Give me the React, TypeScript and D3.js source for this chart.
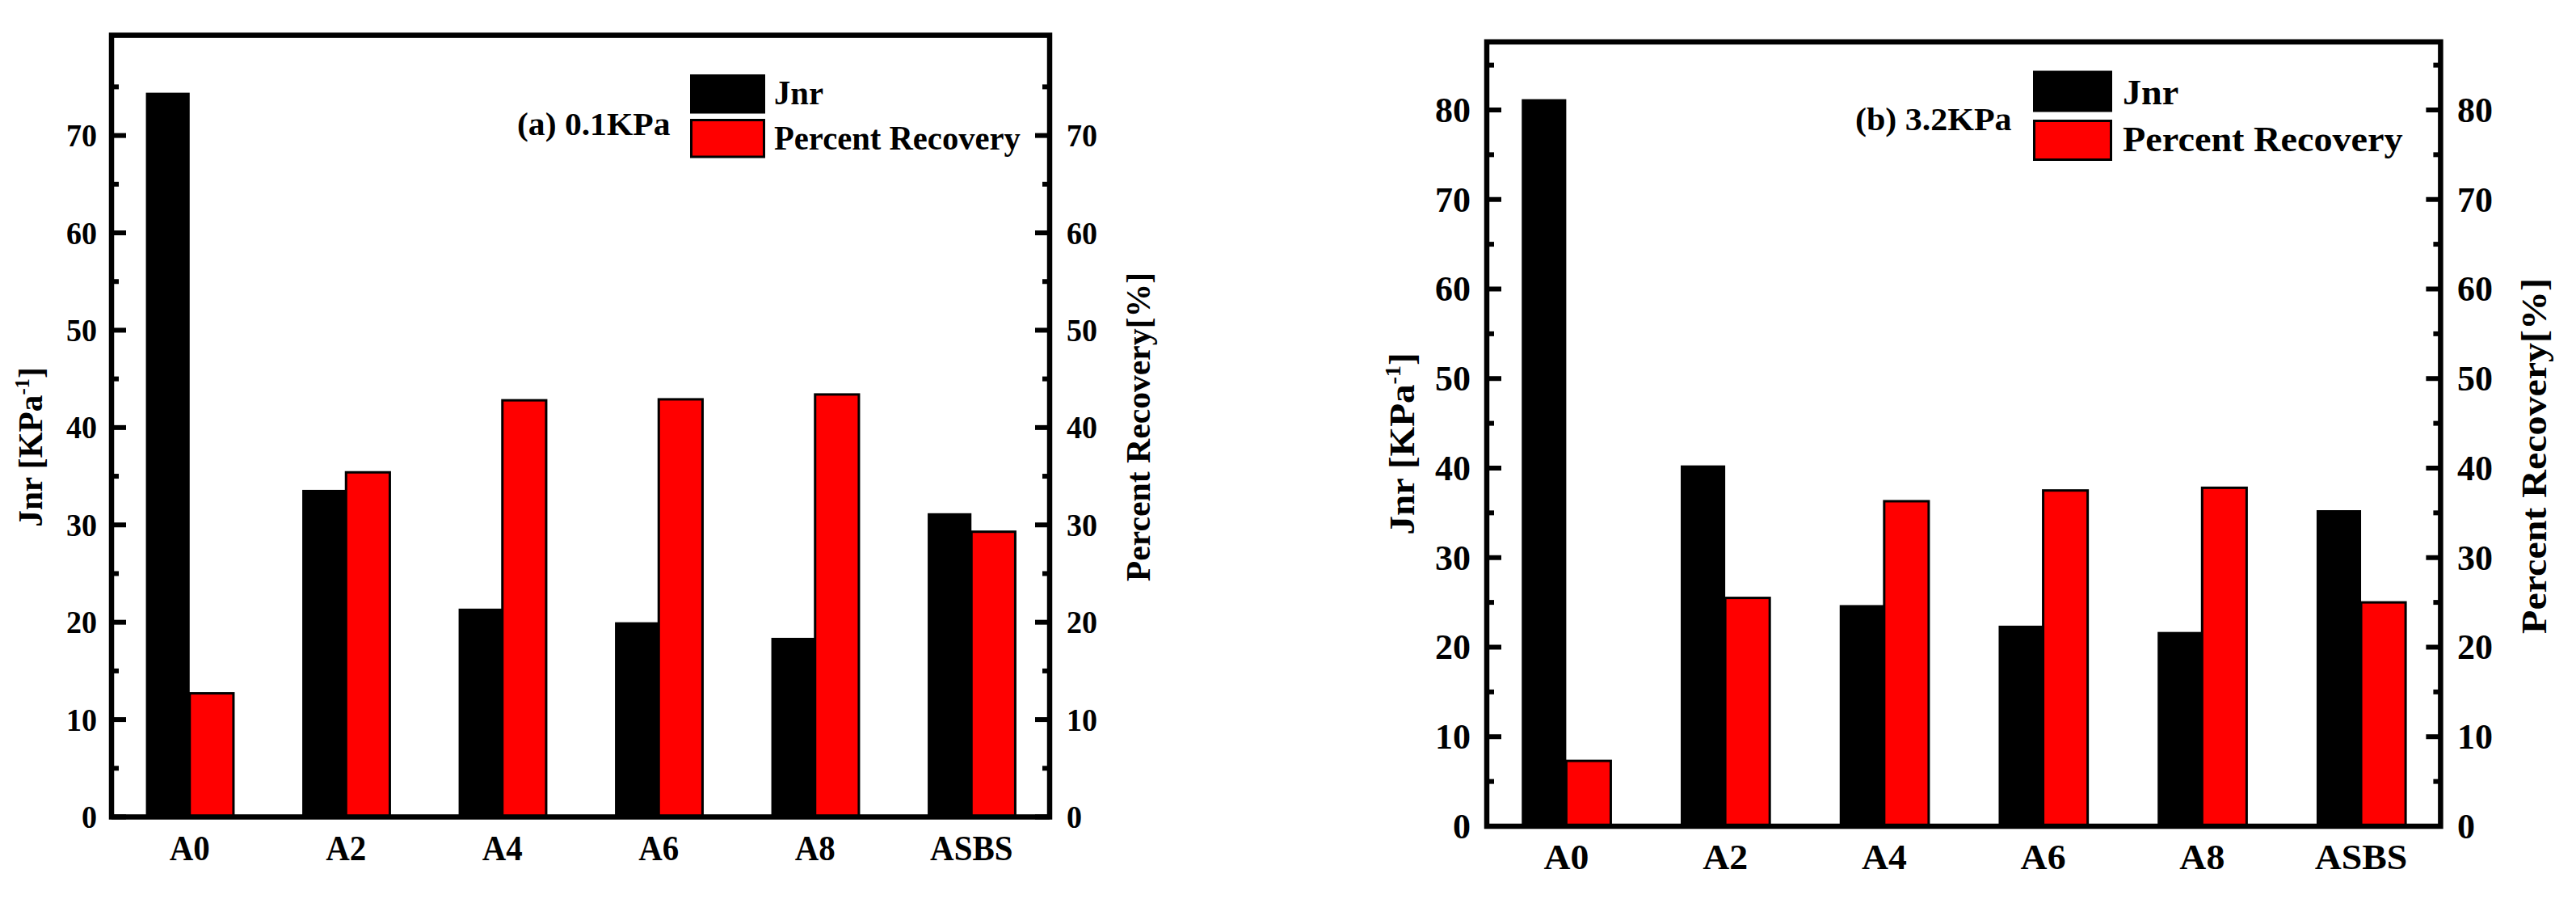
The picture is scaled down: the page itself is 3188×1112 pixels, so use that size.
import React from "react";
import * as d3 from "d3";

// ---------- data ----------
const categories = ["A0", "A2", "A4", "A6", "A8", "ASBS"];
const seriesNames = ["Jnr", "Percent Recovery"];
const panelTitles = ["(a) 0.1KPa", "(b) 3.2KPa"];

const jnr01 = [74.4, 33.6, 21.4, 20.0, 18.4, 31.2];
const recovery01 = [12.7, 35.4, 42.8, 42.9, 43.4, 29.3];
const jnr32 = [81.2, 40.3, 24.7, 22.4, 21.7, 35.3];
const recovery32 = [7.3, 25.5, 36.3, 37.5, 37.8, 25.0];

const majorTicks01 = [0, 10, 20, 30, 40, 50, 60, 70];
const minorTicks01 = [5, 15, 25, 35, 45, 55, 65, 75];
const majorTicks32 = [0, 10, 20, 30, 40, 50, 60, 70, 80];
const minorTicks32 = [5, 15, 25, 35, 45, 55, 65, 75, 85];

const leftAxisTitle = ["Jnr [KPa", "-1", "]"];
const rightAxisTitle = "Percent Recovery[%]";

const seriesColors = ["#000000", "#FF0000"];

// ---------- layout ----------
const FONT = "'Liberation Serif', 'Times New Roman', Times, serif";

const layouts = [
  {
    left: 138, right: 1299, top: 43.6, bottom: 1010.5, yMax: 80.3,
    tickFs: 40, tickSx: 0.95, leftLabelX: 120, rightLabelX: 1320,
    xFs: 44, xSx: 0.93, xBase: 1064,
    title: { x: 640, y: 167, fs: 40, sx: 1.04 },
    legend: { x: 854, w: 93, y1: 92, y2: 147, h: 48.5, tx: 958, t1: 129, t2: 185, fs: 43, sx: 0.945 },
    leftTitle: { x: 52, y: 553, fs: 43, sx: 0.96 },
    rightTitle: { x: 1423, y: 528, fs: 43, sx: 0.97 },
  },
  {
    left: 1840, right: 3020.4, top: 51.8, bottom: 1022, yMax: 87.6,
    tickFs: 44, tickSx: 1.0, leftLabelX: 1820, rightLabelX: 3041,
    xFs: 44, xSx: 1.04, xBase: 1075,
    title: { x: 2296, y: 161, fs: 40, sx: 1.05 },
    legend: { x: 2516, w: 98, y1: 87.5, y2: 148, h: 51, tx: 2627, t1: 129, t2: 187, fs: 44, sx: 1.05 },
    leftTitle: { x: 1750, y: 549, fs: 44, sx: 1.07 },
    rightTitle: { x: 3151, y: 564, fs: 44, sx: 1.09 },
  },
];

const panelData = [
  { jnr: jnr01, rec: recovery01, major: majorTicks01, minor: minorTicks01 },
  { jnr: jnr32, rec: recovery32, major: majorTicks32, minor: minorTicks32 },
];

function T(props: any) {
  const { x, y, sx = 1, rot = 0, anchor = "start", size, children } = props;
  return (
    <text
      transform={`translate(${x},${y}) rotate(${rot}) scale(${sx},1)`}
      textAnchor={anchor}
      fontSize={size}
      fontWeight="bold"
      fontFamily={FONT}
      fill="#000"
    >
      {children}
    </text>
  );
}

function Panel({ idx }: { idx: number }) {
  const L = layouts[idx];
  const D = panelData[idx];
  const x = d3.scaleBand<string>().domain(categories).range([L.left, L.right]);
  const y = d3.scaleLinear().domain([0, L.yMax]).range([L.bottom, L.top]);
  const bw = x.bandwidth() * 0.28;
  const center = (c: string) => (x(c) as number) + x.bandwidth() / 2;
  const SW = 6.5;
  const majorLen = 18;
  const minorLen = 9;

  return (
    <g>
      {/* bars */}
      {categories.map((c, i) => (
        <g key={c}>
          <rect
            x={center(c) - bw}
            y={y(D.jnr[i])}
            width={bw}
            height={y(0) - y(D.jnr[i])}
            fill={seriesColors[0]}
          />
          <rect
            x={center(c)}
            y={y(D.rec[i])}
            width={bw}
            height={y(0) - y(D.rec[i])}
            fill={seriesColors[1]}
            stroke="#000"
            strokeWidth={3}
          />
        </g>
      ))}

      {/* ticks */}
      {D.major.map((v) => (
        <g key={"M" + v}>
          <line x1={L.left} x2={L.left + majorLen} y1={y(v)} y2={y(v)} stroke="#000" strokeWidth={6} />
          <line x1={L.right} x2={L.right - majorLen} y1={y(v)} y2={y(v)} stroke="#000" strokeWidth={6} />
          <T x={L.leftLabelX} y={y(v) + L.tickFs * 0.34} anchor="end" size={L.tickFs} sx={L.tickSx}>
            {String(v)}
          </T>
          <T x={L.rightLabelX} y={y(v) + L.tickFs * 0.34} anchor="start" size={L.tickFs} sx={L.tickSx}>
            {String(v)}
          </T>
        </g>
      ))}
      {D.minor.map((v) => (
        <g key={"m" + v}>
          <line x1={L.left} x2={L.left + minorLen} y1={y(v)} y2={y(v)} stroke="#000" strokeWidth={6} />
          <line x1={L.right} x2={L.right - minorLen} y1={y(v)} y2={y(v)} stroke="#000" strokeWidth={6} />
        </g>
      ))}

      {/* frame */}
      <rect
        x={L.left}
        y={L.top}
        width={L.right - L.left}
        height={L.bottom - L.top}
        fill="none"
        stroke="#000"
        strokeWidth={SW}
      />

      {/* x labels */}
      {categories.map((c) => (
        <T key={"xl" + c} x={center(c)} y={L.xBase} anchor="middle" size={L.xFs} sx={L.xSx}>
          {c}
        </T>
      ))}

      {/* panel title */}
      <T x={L.title.x} y={L.title.y} size={L.title.fs} sx={L.title.sx}>
        {panelTitles[idx]}
      </T>

      {/* legend */}
      <rect x={L.legend.x} y={L.legend.y1} width={L.legend.w} height={L.legend.h} fill={seriesColors[0]} />
      <rect
        x={L.legend.x + 1.5}
        y={L.legend.y2 + 1.5}
        width={L.legend.w - 3}
        height={L.legend.h - 3}
        fill={seriesColors[1]}
        stroke="#000"
        strokeWidth={3}
      />
      <T x={L.legend.tx} y={L.legend.t1} size={L.legend.fs} sx={L.legend.sx}>
        {seriesNames[0]}
      </T>
      <T x={L.legend.tx} y={L.legend.t2} size={L.legend.fs} sx={L.legend.sx}>
        {seriesNames[1]}
      </T>

      {/* axis titles */}
      <T x={L.leftTitle.x} y={L.leftTitle.y} rot={-90} anchor="middle" size={L.leftTitle.fs} sx={L.leftTitle.sx}>
        {leftAxisTitle[0]}
        <tspan fontSize={L.leftTitle.fs * 0.6} dy={-L.leftTitle.fs * 0.38}>
          {leftAxisTitle[1]}
        </tspan>
        <tspan dy={L.leftTitle.fs * 0.38}>{leftAxisTitle[2]}</tspan>
      </T>
      <T x={L.rightTitle.x} y={L.rightTitle.y} rot={-90} anchor="middle" size={L.rightTitle.fs} sx={L.rightTitle.sx}>
        {rightAxisTitle}
      </T>
    </g>
  );
}

export default function App() {
  return (
    <svg
      width={3188}
      height={1112}
      viewBox="0 0 3188 1112"
      style={{ position: "absolute", left: 0, top: 0, background: "#fff" }}
    >
      <rect x={0} y={0} width={3188} height={1112} fill="#fff" />
      <Panel idx={0} />
      <Panel idx={1} />
    </svg>
  );
}
